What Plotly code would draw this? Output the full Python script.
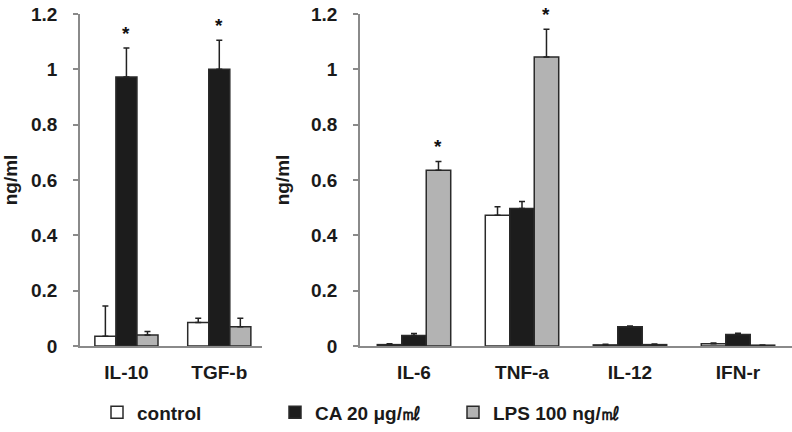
import plotly.graph_objects as go

# ---------------- data ----------------
left_cats = ["IL-10", "TGF-b"]
right_cats = ["IL-6", "TNF-a", "IL-12", "IFN-r"]

series_names = ["control", "CA 20 μg/㎖", "LPS 100 ng/㎖"]

left_control = [0.035, 0.085]
left_control_err = [0.11, 0.015]
left_ca = [0.972, 1.0]
left_ca_err = [0.105, 0.105]
left_lps = [0.04, 0.07]
left_lps_err = [0.012, 0.03]

right_control = [0.005, 0.473, 0.004, 0.008]
right_control_err = [0.003, 0.03, 0.002, 0.003]
right_ca = [0.038, 0.497, 0.07, 0.042]
right_ca_err = [0.007, 0.025, 0.002, 0.004]
right_lps = [0.635, 1.045, 0.005, 0.003]
right_lps_err = [0.032, 0.1, 0.002, 0.001]

# significance markers: (panel, category, series index)
stars = [("left", "IL-10", 1), ("left", "TGF-b", 1), ("right", "IL-6", 2), ("right", "TNF-a", 2)]

y_ticks = [0, 0.2, 0.4, 0.6, 0.8, 1.0, 1.2]
y_ticklabels = ["0", "0.2", "0.4", "0.6", "0.8", "1", "1.2"]

# ---------------- style ----------------
W, H = 792, 432
FONT = "Liberation Sans"
fills = ["#ffffff", "#1c1c1c", "#b3b3b3"]
outline = "#2a2a2a"
axis_gray = "#8a8a8a"
BARGAP = 0.32
left_dom = [80 / W, 262 / W]
right_dom = [360 / W, 1.0]
left_range = [-0.5, 1.46]
right_range = [-0.5, 3.5]

fig = go.Figure()

panels = {
    "left": (left_cats, [left_control, left_ca, left_lps],
             [left_control_err, left_ca_err, left_lps_err], "x", "y"),
    "right": (right_cats, [right_control, right_ca, right_lps],
              [right_control_err, right_ca_err, right_lps_err], "x2", "y2"),
}

for pname, (cats, vals, errs, xa, ya) in panels.items():
    for i, name in enumerate(series_names):
        fig.add_trace(go.Bar(
            x=cats, y=vals[i], name=name,
            legendgroup=name, showlegend=(pname == "left"),
            marker=dict(color=fills[i], line=dict(color=outline, width=1.5)),
            error_y=dict(type="data", array=errs[i], arrayminus=[0] * len(cats),
                         symmetric=False, color="#222222", thickness=1.5, width=3),
            offsetgroup=str(i),
            xaxis=xa, yaxis=ya,
        ))

# stars above error bars
def bar_width_px(dom, rng):
    px_per_cat = (dom[1] - dom[0]) * W / (rng[1] - rng[0])
    return px_per_cat * (1 - BARGAP) / 3

for pname, cat, si in stars:
    cats, vals, errs, xa, ya = panels[pname]
    idx = cats.index(cat)
    top = vals[si][idx] + errs[si][idx]
    dom, rng = (left_dom, left_range) if pname == "left" else (right_dom, right_range)
    bw = bar_width_px(dom, rng)
    fig.add_annotation(
        x=cat, y=top, xref=xa, yref=ya, text="*", showarrow=False,
        yanchor="bottom", xshift=(si - 1) * bw, yshift=2,
        font=dict(family=FONT, size=19, color="#111111", weight="bold"),
    )

axis_font = dict(family=FONT, size=19, color="#1a1a1a", weight="bold")

common_x = dict(showline=True, linecolor=axis_gray, linewidth=1.5, ticks="",
                tickfont=axis_font, showgrid=False, zeroline=False,
                ticklabelstandoff=8, fixedrange=True)
common_y = dict(showline=True, linecolor=axis_gray, linewidth=1.5, ticks="outside",
                ticklen=5, tickwidth=1.5, tickcolor=axis_gray, tickfont=axis_font,
                range=[0, 1.2], tickvals=y_ticks, ticktext=y_ticklabels,
                showgrid=False, zeroline=False, ticklabelstandoff=12,
                title=dict(text="ng/ml", font=axis_font, standoff=16))

fig.update_layout(
    width=W, height=H,
    margin=dict(l=0, r=0, t=13.5, b=85.5, pad=0, autoexpand=False),
    paper_bgcolor="white", plot_bgcolor="white",
    barmode="group", bargap=BARGAP, bargroupgap=0,
    font=dict(family=FONT, size=19, color="#1a1a1a"),
    xaxis=dict(domain=left_dom, range=left_range, anchor="y", **common_x),
    yaxis=dict(domain=[0, 1], anchor="x", **common_y),
    xaxis2=dict(domain=right_dom, range=right_range, anchor="y2", **common_x),
    yaxis2=dict(domain=[0, 1], anchor="x2", **common_y),
    legend=dict(orientation="h", x=97 / W, xanchor="left", y=-0.2, yanchor="middle",
                font=dict(family=FONT, size=19, color="#1a1a1a", weight="bold"),
                entrywidth=133, traceorder="normal", bgcolor="rgba(0,0,0,0)"),
    showlegend=True,
)

fig.write_html("out.html",
               config={"displayModeBar": False},
               post_script="document.body.style.margin='0';document.body.style.overflow='hidden';")
